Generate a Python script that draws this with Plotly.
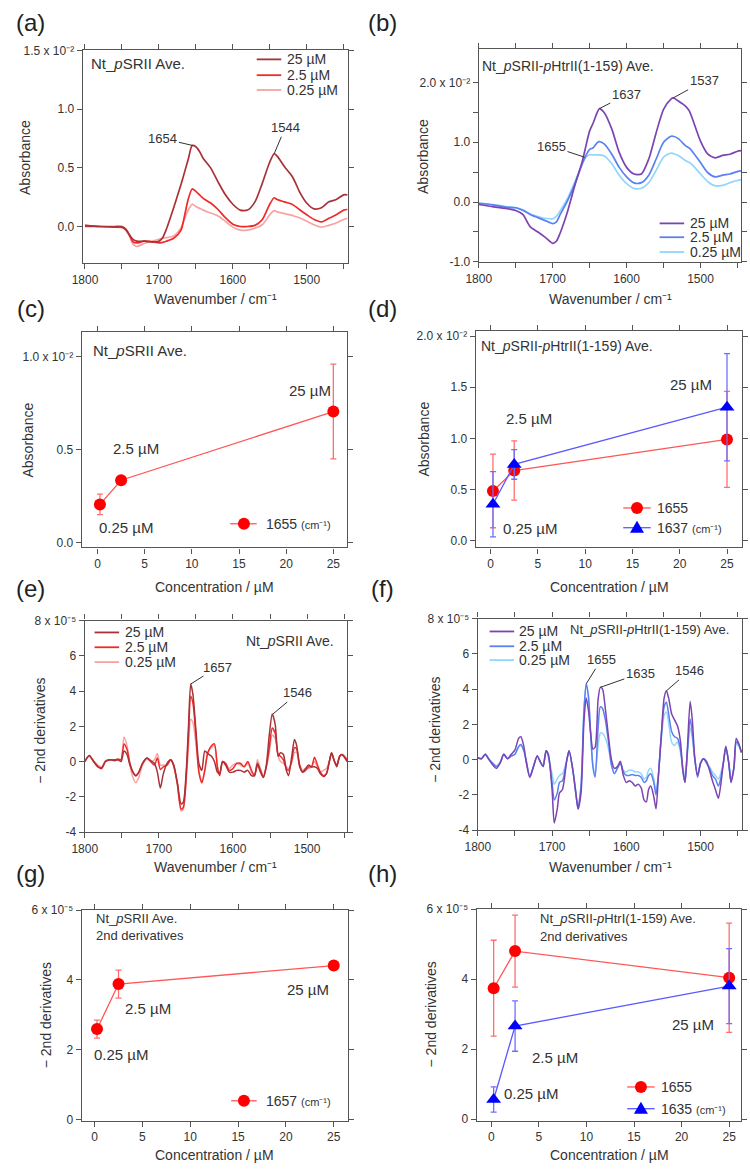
import plotly.graph_objects as go

W, H = 750, 1173
FONT = "Liberation Sans, Arial, sans-serif"
TXT = "#333333"
AX = "#555555"

# ------------------------------------------------------------------ data
# (a) absorbance spectra, Nt_pSRII (x 10^-2)
wn_a = [1800, 1780, 1760, 1750, 1745, 1740, 1735, 1730, 1720, 1710,
        1700, 1695, 1690, 1680, 1670, 1665, 1660, 1655, 1650, 1645,
        1640, 1630, 1620, 1610, 1600, 1590, 1580, 1570, 1560, 1550,
        1544, 1540, 1530, 1520, 1515, 1510, 1500, 1490, 1480, 1470,
        1460, 1450, 1445]
a_25 = [0.01, 0.0, -0.005, -0.005, -0.025, -0.07, -0.11, -0.125, -0.125, -0.13,
        -0.125, -0.095, -0.025, 0.16, 0.36, 0.47, 0.58, 0.69, 0.68, 0.64,
        0.58, 0.50, 0.38, 0.27, 0.19, 0.14, 0.14, 0.21, 0.37, 0.55,
        0.62, 0.60, 0.51, 0.43, 0.37, 0.30, 0.20, 0.15, 0.16, 0.21,
        0.23, 0.27, 0.27]
a_2p5 = [0.0, 0.0, 0.0, 0.0, -0.02, -0.07, -0.13, -0.14, -0.125, -0.13,
         -0.14, -0.135, -0.125, -0.10, -0.03, 0.10, 0.24, 0.32, 0.30, 0.27,
         0.24, 0.20, 0.145, 0.075, 0.02, 0.0, 0.0, 0.01, 0.06, 0.19,
         0.245, 0.23, 0.21, 0.19, 0.17, 0.145, 0.10, 0.06, 0.04, 0.07,
         0.10, 0.14, 0.145]
a_0p25 = [0.01, 0.0, -0.005, -0.01, -0.03, -0.08, -0.15, -0.17, -0.145, -0.125,
          -0.11, -0.10, -0.095, -0.08, -0.01, 0.07, 0.145, 0.19, 0.17, 0.155,
          0.14, 0.115, 0.09, 0.045, -0.005, -0.03, -0.03, -0.015, 0.015, 0.10,
          0.135, 0.125, 0.11, 0.095, 0.085, 0.075, 0.045, 0.015, -0.005, 0.01,
          0.03, 0.06, 0.07]

# (b) absorbance spectra, Nt_pSRII-pHtrII(1-159) (x 10^-2)
wn_b = [1800, 1780, 1760, 1750, 1740, 1735, 1730, 1720, 1710, 1700,
        1695, 1690, 1680, 1670, 1660, 1655, 1650, 1645, 1640, 1637,
        1630, 1620, 1610, 1600, 1590, 1580, 1570, 1560, 1550, 1540,
        1537, 1530, 1520, 1515, 1510, 1500, 1490, 1480, 1470, 1460,
        1450, 1445]
b_25 = [-0.04, -0.08, -0.115, -0.14, -0.21, -0.32, -0.42, -0.50, -0.59, -0.69,
        -0.655, -0.52, -0.16, 0.28, 0.68, 0.94, 1.19, 1.33, 1.49, 1.56,
        1.49, 1.22, 0.83, 0.58, 0.47, 0.47, 0.72, 1.16, 1.55, 1.72,
        1.74, 1.69, 1.60, 1.52, 1.36, 1.02, 0.80, 0.74, 0.78, 0.80,
        0.85, 0.86]
b_2p5 = [-0.02, -0.05, -0.09, -0.095, -0.14, -0.175, -0.21, -0.26, -0.31, -0.36,
         -0.33, -0.21, 0.02, 0.30, 0.64, 0.78, 0.88, 0.91, 0.99, 1.01,
         0.97, 0.80, 0.58, 0.42, 0.32, 0.325, 0.45, 0.72, 1.0, 1.10,
         1.10, 1.06, 0.94, 0.90, 0.83, 0.66, 0.49, 0.42, 0.45, 0.47,
         0.51, 0.52]
b_0p25 = [-0.02, -0.04, -0.08, -0.09, -0.13, -0.165, -0.20, -0.24, -0.27, -0.28,
          -0.24, -0.15, 0.06, 0.34, 0.64, 0.75, 0.79, 0.79, 0.79, 0.79,
          0.77, 0.64, 0.45, 0.31, 0.23, 0.23, 0.325, 0.53, 0.75, 0.82,
          0.81, 0.78, 0.69, 0.66, 0.61, 0.47, 0.34, 0.27, 0.28, 0.325,
          0.36, 0.37]

# (e) -2nd derivative spectra, Nt_pSRII (x 10^-5)
wn_e = [1800, 1794, 1788, 1782, 1777, 1772, 1766, 1760, 1755, 1751,
        1747, 1743, 1739, 1735, 1731, 1727, 1722, 1716, 1711, 1706,
        1702, 1698, 1694, 1689, 1684, 1680, 1675, 1670, 1667, 1663,
        1660, 1657, 1654, 1650, 1646, 1642, 1638, 1634, 1629, 1625,
        1621, 1618, 1614, 1610, 1605, 1600, 1595, 1590, 1585, 1580,
        1575, 1571, 1567, 1563, 1559, 1555, 1551, 1547, 1543, 1539,
        1536, 1532, 1528, 1525, 1521, 1517, 1514, 1510, 1506, 1502,
        1498, 1494, 1490, 1486, 1482, 1478, 1474, 1470, 1467, 1463,
        1460, 1456, 1453, 1449, 1446]
e_25 = [0.0, 0.35, 0.0, -0.3, -0.35, 0.0, 0.1, 0.05, 0.1, 0.0,
        0.6, 0.4, -0.2, -0.6, -0.8, -0.6, -0.1, 0.2, 0.05, -0.1,
        -0.6, -1.5, -0.7, -0.1, 0.1, -0.2, -1.2, -2.4, -2.3, -0.5,
        2.0, 4.4, 3.8, 1.8, -0.1, -0.5, 0.6, 0.45, 0.3, 0.0,
        -0.6, -0.7, 0.0, -0.2, -0.6, -0.6, -0.5, -0.5, -0.6, -0.5,
        -0.8, -0.8, -0.1, -0.5, -0.9, -0.2, 1.5, 2.7, 2.1, 0.3,
        0.5, 0.4, -0.5, -0.8, 0.2, 1.25, 0.9, -0.3, -0.6, -0.4,
        -0.2, -0.3, -0.3, -0.4, -0.7, -0.85, -0.7, 0.0, 0.5, 0.0,
        -0.3, 0.3, 0.4, 0.2, 0.0]
e_2p5 = [0.0, 0.35, 0.0, -0.3, -0.4, 0.0, 0.1, 0.1, 0.15, 0.1,
         1.0, 0.7, -0.1, -0.6, -0.8, -0.6, -0.1, 0.2, 0.0, -0.2,
         0.2, -0.45, -0.3, -0.2, 0.1, -0.2, -1.3, -2.7, -2.6, -0.8,
         1.5, 3.7, 3.3, 1.5, -0.6, -1.2, -0.5, 0.5, 0.9, 1.0,
         -0.3, -0.8, 0.0, -0.1, -0.5, -0.4, -0.1, -0.1, -0.3, 0.0,
         -0.5, -0.8, -0.2, -0.6, -0.9, -0.3, 0.8, 1.9, 1.6, 0.4,
         0.3, 0.1, -0.4, -0.5, 0.0, 0.8, 0.7, -0.2, -0.6, -0.5,
         -0.3, -0.3, 0.25, -0.2, -0.6, -0.8, -0.7, 0.0, 0.5, 0.0,
         -0.2, 0.3, 0.4, 0.25, 0.1]
e_0p25 = [0.0, 0.3, 0.05, -0.2, -0.3, 0.05, 0.1, 0.1, 0.1, 0.1,
          1.4, 0.9, -0.2, -0.9, -1.2, -0.9, -0.2, 0.15, 0.0, 0.1,
          0.45, -0.2, -0.2, -0.2, 0.1, -0.3, -1.3, -2.8, -2.7, -1.0,
          0.8, 2.4, 2.2, 1.0, -0.5, -1.2, -0.5, 0.5, 0.8, 0.9,
          -0.3, -0.7, 0.0, -0.1, -0.4, -0.2, -0.1, -0.2, -0.3, -0.1,
          -0.6, -0.8, 0.1, -0.4, -0.8, -0.3, 0.5, 1.5, 1.3, 0.3,
          0.0, -0.1, -0.3, -0.4, -0.1, 0.5, 0.5, -0.2, -0.5, -0.4,
          -0.4, -0.3, 0.0, -0.3, -0.6, -0.5, -0.4, 0.0, 0.4, 0.0,
          -0.2, 0.3, 0.4, 0.3, 0.1]

# (f) -2nd derivative spectra, Nt_pSRII-pHtrII(1-159) (x 10^-5)
wn_f = [1800, 1795, 1790, 1785, 1780, 1775, 1770, 1765, 1760, 1755,
        1750, 1745, 1742, 1738, 1735, 1730, 1725, 1720, 1715, 1712,
        1708, 1705, 1700, 1697, 1693, 1690, 1686, 1680, 1677, 1672,
        1668, 1665, 1661, 1657, 1654, 1651, 1648, 1645, 1642, 1638,
        1635, 1632, 1628, 1624, 1620, 1616, 1612, 1608, 1604, 1600,
        1596, 1592, 1588, 1584, 1580, 1576, 1573, 1570, 1567, 1563,
        1560, 1557, 1553, 1549, 1546, 1543, 1539, 1535, 1531, 1527,
        1524, 1521, 1518, 1514, 1511, 1508, 1504, 1500, 1496, 1492,
        1488, 1484, 1480, 1476, 1473, 1469, 1466, 1462, 1459, 1455,
        1452, 1449, 1445]
f_25 = [0.1, 0.05, 0.3, 0.0, -0.3, -0.5, -0.2, 0.3, 0.05, 0.3,
        0.55, 1.2, 1.3, 0.75, -0.1, -1.0, -0.4, 0.2, -0.2, -0.4,
        0.5, 0.3, -1.7, -3.6, -2.8, -1.9, -1.7, 0.0, 0.5, -0.6,
        -1.9, -2.8, -1.9, 2.2, 3.5, 2.8, 1.5, 0.6, 0.7, 3.4,
        4.1, 4.0, 2.8, 1.3, 0.0, -0.5, -0.4, -0.1, -0.9, -1.3,
        -1.2, -1.3, -1.5, -1.4, -1.6, -2.3, -2.4, -1.7, -1.5, -2.1,
        -2.8, -1.1, 1.3, 3.5, 3.9, 3.5, 2.6, 2.25, 1.9, 1.0,
        -0.6, -1.3, 0.4, 3.3, 2.2, 0.2, -0.9, -0.2, 0.05, -0.1,
        -0.6, -1.2, -1.7, -2.2, -1.5, -0.1, 0.75, -0.2, -1.3, -0.4,
        1.2, 0.95, 0.4]
f_2p5 = [0.1, 0.05, 0.3, 0.0, -0.2, -0.4, -0.2, 0.3, 0.05, 0.2,
         0.3, 0.75, 0.85, 0.5, 0.0, -1.0, -0.4, 0.2, -0.2, -0.4,
         0.5, 0.2, -1.3, -2.3, -1.9, -1.3, -1.2, 0.0, 0.5, -0.6,
         -1.9, -2.8, -1.5, 2.8, 4.3, 3.6, 1.5, -0.4, -1.0, 1.8,
         3.0, 2.9, 2.2, 1.0, -0.3, -0.8, -0.5, -0.2, -0.7, -0.9,
         -0.9, -0.85, -0.9, -0.9, -1.0, -1.3, -1.2, -0.9, -0.8, -1.3,
         -2.0, -1.0, 1.3, 3.0, 3.25, 2.6, 1.6, 1.3, 1.2, 0.6,
         -0.5, -1.3, 0.3, 2.3, 1.5, 0.1, -1.0, -0.2, 0.05, -0.2,
         -0.5, -0.9, -1.1, -1.5, -1.1, -0.1, 0.7, -0.2, -1.2, -0.5,
         1.0, 0.9, 0.4]
f_0p25 = [0.1, 0.05, 0.3, 0.05, -0.2, -0.35, -0.15, 0.3, 0.05, 0.2,
          0.3, 0.7, 0.8, 0.5, 0.0, -0.9, -0.4, 0.2, -0.2, -0.3,
          0.5, 0.2, -0.8, -1.4, -1.1, -0.9, -0.8, 0.0, 0.5, -0.6,
          -1.8, -2.7, -1.5, 2.8, 4.3, 3.5, 1.4, -0.3, -0.8, 0.8,
          1.5, 1.5, 1.2, 0.6, -0.3, -0.8, -0.5, -0.2, -0.6, -0.7,
          -0.6, -0.6, -0.7, -0.7, -0.8, -1.1, -1.0, -0.6, -0.5, -1.1,
          -1.8, -0.9, 1.1, 2.5, 2.7, 2.1, 1.0, 0.8, 1.0, 0.4,
          -0.4, -1.0, 0.2, 1.8, 1.2, 0.1, -0.9, -0.2, 0.05, -0.2,
          -0.4, -0.7, -0.9, -1.1, -0.8, -0.1, 0.7, -0.2, -1.1, -0.4,
          0.9, 0.8, 0.5]

# concentration series
conc = [0.25, 2.5, 25]
c_1655 = [0.205, 0.335, 0.705]
c_1655_err = [0.055, 0.01, 0.255]
d_1655 = [0.485, 0.685, 0.99]
d_1655_err = [0.36, 0.29, 0.47]
d_1637 = [0.355, 0.745, 1.305]
d_1637_err = [0.32, 0.145, 0.525]
g_1657 = [2.59, 3.88, 4.41]
g_1657_err = [0.26, 0.40, 0.12]
h_1655 = [3.74, 4.80, 4.04]
h_1655_err = [1.37, 1.03, 1.56]
h_1635 = [0.56, 2.66, 3.80]
h_1635_err = [0.36, 0.72, 1.07]

conc_labels = ["0.25 µM", "2.5 µM", "25 µM"]

# ------------------------------------------------------------------ helpers
def X(px):
    return px / W


def Y(py):
    return 1 - py / H


fig = go.Figure()

RED_D, RED_M, RED_L = "#a83238", "#f02a2a", "#f7a3a3"
PUR, BLU, CYA = "#7b44b3", "#5b80f2", "#92d6fb"
MRED, LRED, ERED = "#ff0000", "#ff5757", "#ff6f6f"
MBLU, LBLU, EBLU = "#0000ff", "#5a5aff", "#6f6fff"

# panel geometry (pixels) and ranges
panels = [
    ("a", (71, 341), (44, 259), [1803, 1444], [-0.31, 1.5]),
    ("b", (474, 741), (43, 258), [1800, 1445], [-1.0, 2.55]),
    ("c", (70, 340), (329, 547), [-1.67, 26.46], [-0.027, 1.133]),
    ("d", (471, 742), (328, 547), [-1.56, 26.6], [-0.068, 2.05]),
    ("e", (73, 340), (621, 835), [1800, 1446], [-4, 8]),
    ("f", (473, 742), (619, 833), [1800, 1444], [-4, 8]),
    ("g", (70, 341), (914, 1127), [-1.34, 26.5], [-0.03, 6]),
    ("h", (472, 741), (913, 1127), [-1.52, 26.26], [-0.04, 6]),
]

base_axis = dict(showline=True, linecolor=AX, linewidth=1.4, mirror="ticks",
                 ticks="outside", ticklen=5, tickwidth=1.2, tickcolor=AX,
                 showgrid=False, zeroline=False,
                 tickfont=dict(size=12, color=TXT, family=FONT))

wn_ticks = dict(tickvals=[1800, 1700, 1600, 1500],
                ticktext=["1800", "1700", "1600", "1500"],
                minor=dict(tickvals=[1750, 1650, 1550, 1450], ticks="outside",
                           ticklen=5, tickwidth=1.2, tickcolor=AX))
conc_ticks = dict(tickvals=[0, 5, 10, 15, 20, 25])

E2 = " x 10⁻²"
E5 = " x 10⁻⁵"
ytick = {
    "a": dict(tickvals=[0, 0.5, 1.0, 1.5],
              ticktext=["0.0", "0.5", "1.0", "1.5" + E2]),
    "b": dict(tickvals=[-1, 0, 1, 2],
              ticktext=["-1.0", "0.0", "1.0", "2.0" + E2],
              minor=dict(tickvals=[-0.5, 0.5, 1.5], ticks="outside", ticklen=5,
                         tickwidth=1.2, tickcolor=AX)),
    "c": dict(tickvals=[0, 0.5, 1.0],
              ticktext=["0.0", "0.5", "1.0" + E2]),
    "d": dict(tickvals=[0, 0.5, 1.0, 1.5, 2.0],
              ticktext=["0.0", "0.5", "1.0", "1.5", "2.0" + E2]),
    "e": dict(tickvals=[-4, -2, 0, 2, 4, 6, 8],
              ticktext=["-4", "-2", "0", "2", "4", "6", "8" + E5]),
    "f": dict(tickvals=[-4, -2, 0, 2, 4, 6, 8],
              ticktext=["-4", "-2", "0", "2", "4", "6", "8" + E5]),
    "g": dict(tickvals=[0, 2, 4, 6], ticktext=["0", "2", "4", "6" + E5]),
    "h": dict(tickvals=[0, 2, 4, 6], ticktext=["0", "2", "4", "6" + E5]),
}

ax_ids = {}
for i, (name, (x0, x1), (y0, y1), xr, yr) in enumerate(panels):
    n = "" if i == 0 else str(i + 1)
    ax_ids[name] = ("x" + n, "y" + n)
    xa = dict(base_axis, domain=[X(x0), X(x1)], range=xr, anchor="y" + n)
    xa.update(wn_ticks if name in "abef" else conc_ticks)
    ya = dict(base_axis, domain=[Y(y1), Y(y0)], range=yr, anchor="x" + n)
    ya.update(ytick[name])
    fig.update_layout(**{"xaxis" + n: xa, "yaxis" + n: ya})


def spec(name, x, y, color, width=1.7):
    xa, ya = ax_ids[name]
    fig.add_trace(go.Scatter(x=x, y=y, mode="lines", xaxis=xa, yaxis=ya,
                             line=dict(color=color, width=width, shape="spline",
                                       smoothing=0.7),
                             showlegend=False, hoverinfo="skip"))


def series(name, y, err, mcol, lcol, ecol, symbol):
    xa, ya = ax_ids[name]
    fig.add_trace(go.Scatter(x=conc, y=y, mode="lines+markers", xaxis=xa, yaxis=ya,
                             line=dict(color=lcol, width=1.3),
                             marker=dict(symbol=symbol, size=12 if symbol == "circle" else 13,
                                         color=mcol),
                             error_y=dict(type="data", array=err, color=ecol,
                                          thickness=1.3, width=3),
                             showlegend=False, hoverinfo="skip"))


spec("a", wn_a, a_0p25, RED_L)
spec("a", wn_a, a_2p5, RED_M)
spec("a", wn_a, a_25, RED_D)
spec("b", wn_b, b_0p25, CYA)
spec("b", wn_b, b_2p5, BLU)
spec("b", wn_b, b_25, PUR)
spec("e", wn_e, e_0p25, RED_L, 1.5)
spec("e", wn_e, e_2p5, RED_M, 1.5)
spec("e", wn_e, e_25, RED_D, 1.5)
spec("f", wn_f, f_0p25, CYA, 1.5)
spec("f", wn_f, f_2p5, BLU, 1.5)
spec("f", wn_f, f_25, PUR, 1.5)

series("c", c_1655, c_1655_err, MRED, LRED, ERED, "circle")
series("d", d_1655, d_1655_err, MRED, LRED, ERED, "circle")
series("d", d_1637, d_1637_err, MBLU, LBLU, EBLU, "triangle-up")
series("g", g_1657, g_1657_err, MRED, LRED, ERED, "circle")
series("h", h_1655, h_1655_err, MRED, LRED, ERED, "circle")
series("h", h_1635, h_1635_err, MBLU, LBLU, EBLU, "triangle-up")

annotations = []
shapes = []


def text(px, py, s, size=14, xanchor="center", angle=0, color=TXT, family=FONT):
    annotations.append(dict(x=X(px), y=Y(py), xref="paper", yref="paper", text=s,
                            showarrow=False, xanchor=xanchor, yanchor="middle",
                            textangle=angle, font=dict(size=size, color=color, family=family)))


def peak(name, wn, val, s, ax, ay):
    xa, ya = ax_ids[name]
    annotations.append(dict(x=wn, y=val, xref=xa, yref=ya, text=s, showarrow=True,
                            arrowhead=0, arrowwidth=1, arrowcolor="#333333",
                            ax=ax, ay=ay, standoff=0,
                            font=dict(size=13, color=TXT, family=FONT)))


def leg_line(x0, x1, py, color, width=1.8):
    shapes.append(dict(type="line", xref="paper", yref="paper", x0=X(x0), x1=X(x1),
                       y0=Y(py), y1=Y(py), line=dict(color=color, width=width)))


def leg_circle(px, py, color, r=6):
    shapes.append(dict(type="circle", xref="paper", yref="paper", xsizemode="pixel",
                       ysizemode="pixel", xanchor=X(px), yanchor=Y(py),
                       x0=-r, x1=r, y0=-r, y1=r, fillcolor=color, line=dict(width=0)))


def leg_tri(px, py, color):
    shapes.append(dict(type="path", xref="paper", yref="paper", xsizemode="pixel",
                       ysizemode="pixel", xanchor=X(px), yanchor=Y(py),
                       path="M -7,-5 L 7,-5 L 0,7 Z", fillcolor=color, line=dict(width=0)))


# panel letters
for lab, px, py in [("(a)", 18, 16), ("(b)", 376, 16), ("(c)", 18, 305), ("(d)", 376, 305),
                    ("(e)", 18, 589), ("(f)", 376, 589), ("(g)", 18, 877), ("(h)", 376, 877)]:
    text(px, py, lab, size=24, color="#222222")

# axis titles
WN = "Wavenumber / cm⁻¹"
CONC = "Concentration / µM"
for px, py in [(206, 296), (608, 296), (206, 870), (608, 870)]:
    text(px, py, WN, 14)
for px, py in [(205, 587), (607, 587), (205, 1162), (607, 1162)]:
    text(px, py, CONC, 14)
for px, py in [(12, 152), (417, 151), (15, 438), (418, 437)]:
    text(px, py, "Absorbance", 14, angle=-90)
for px, py in [(28, 733), (430, 732), (33, 1020), (425, 1020)]:
    text(px, py, "− 2nd derivatives", 14, angle=-90)

# in-panel titles
T1 = "Nt_<i>p</i>SRII Ave."
T2 = "Nt_<i>p</i>SRII-<i>p</i>HtrII(1-159) Ave."
text(77, 57, T1, 15, "left")
text(475, 60, T2, 14, "left")
text(79, 348, T1, 15, "left")
text(474, 343, T2, 14, "left")
annotations.append(dict(x=X(329), y=Y(642), xref="paper", yref="paper", text=T1,
                        showarrow=False, xanchor="right", yanchor="middle",
                        font=dict(size=14, color=TXT, family=FONT)))
annotations.append(dict(x=X(731), y=Y(630), xref="paper", yref="paper", text=T2,
                        showarrow=False, xanchor="right", yanchor="middle",
                        font=dict(size=13, color=TXT, family=FONT)))
text(82, 923, T1, 13, "left")
text(82, 940, "2nd derivatives", 13, "left")
text(534, 923, "Nt_<i>p</i>SRII-<i>p</i>HtrI(1-159) Ave.", 13, "left")
text(534, 941, "2nd derivatives", 13, "left")

# peak labels
peak("a", 1654, 0.69, "1654", -30, -7)
peak("a", 1544, 0.62, "1544", 11, -26)
peak("b", 1637, 1.56, "1637", 27, -14)
peak("b", 1537, 1.74, "1537", 31, -17)
peak("b", 1657, 0.75, "1655", -33, -11)
peak("e", 1657, 4.4, "1657", 27, -17)
peak("e", 1546, 2.7, "1546", 25, -21)
peak("f", 1654, 4.3, "1655", 15, -24)
peak("f", 1635, 4.1, "1635", 40, -14)
peak("f", 1546, 3.9, "1546", 23, -20)

# concentration labels
for name, pos in [("c", [(116, 527), (125, 447), (302, 388)]),
                  ("d", [(527, 528), (525, 416), (690, 382)]),
                  ("g", [(110, 1060), (137, 1014), (300, 994)]),
                  ("h", [(528, 1100), (552, 1063), (692, 1030)])]:
    for lab, (px, py) in zip(conc_labels, pos):
        text(px, py, lab, 15)

# legends for spectra
LAB3 = ["25 µM", "2.5 µM", "0.25 µM"]
for (lx0, lx1, tx, rows, cols) in [
        (248, 273, 277, [53, 69, 84], [RED_D, RED_M, RED_L]),
        (658, 683, 687, [219, 233, 248], [PUR, BLU, CYA]),
        (83, 108, 112, [633, 648, 663], [RED_D, RED_M, RED_L]),
        (485, 510, 513, [632, 647, 661], [PUR, BLU, CYA])]:
    for lab, py, col in zip(LAB3, rows, cols):
        leg_line(lx0, lx1, py, col)
        text(tx, py, lab, 14, "left")

CM = " <span style='font-size:11px'>(cm⁻¹)</span>"
# legends for concentration plots
leg_line(221, 248, 523, LRED, 1.3); leg_circle(235, 523, MRED)
text(255, 523, "1655" + CM, 14, "left")
leg_line(621, 649, 507, LRED, 1.3); leg_circle(635, 507, MRED)
text(653, 507, "1655", 14, "left")
leg_line(621, 649, 527, LBLU, 1.3); leg_tri(635, 527, MBLU)
text(653, 527, "1637" + CM, 14, "left")
leg_line(222, 248, 1107, LRED, 1.3); leg_circle(235, 1107, MRED)
text(255, 1107, "1657" + CM, 14, "left")
leg_line(625, 653, 1093, LRED, 1.3); leg_circle(639, 1093, MRED)
text(657, 1093, "1655", 14, "left")
leg_line(625, 653, 1115, LBLU, 1.3); leg_tri(639, 1115, MBLU)
text(657, 1115, "1635" + CM, 14, "left")

fig.update_layout(width=W, height=H, margin=dict(l=0, r=0, t=0, b=0),
                  paper_bgcolor="white", plot_bgcolor="white", showlegend=False,
                  font=dict(family=FONT, color=TXT),
                  annotations=annotations, shapes=shapes)

fig.write_html("out.html")
